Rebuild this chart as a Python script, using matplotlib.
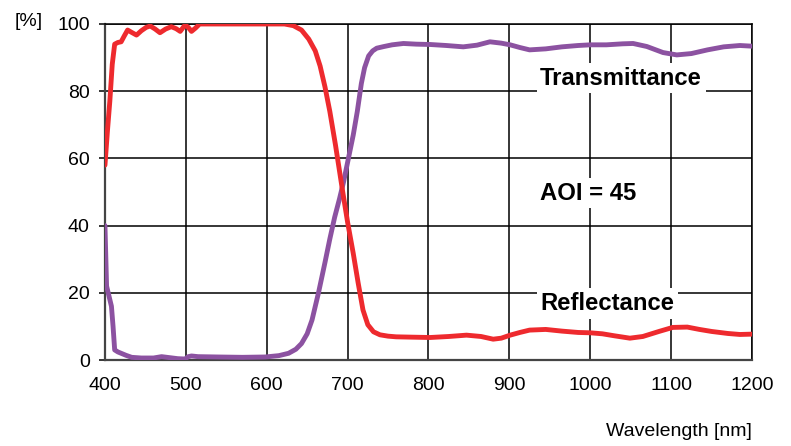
import matplotlib
matplotlib.use("Agg")
import matplotlib.pyplot as plt

plt.rcParams['font.family'] = ['Liberation Sans', 'DejaVu Sans']

# --- Data ---
refl_wl = [400, 403, 406, 409, 412, 416, 420, 424, 428, 433, 439, 445, 451, 456, 462,
           468, 475, 482, 488, 493, 499, 503, 507, 512, 517, 540, 600, 622, 633, 643,
           652, 660, 666, 672, 678, 685, 694, 700, 707, 713, 719, 725, 732, 740, 750,
           760, 780, 802, 825, 847, 865, 880, 890, 901, 913, 925, 945, 965, 985, 1000,
           1015, 1030, 1049, 1065, 1085, 1102, 1120, 1135, 1150, 1170, 1185, 1200]
refl_pct = [58, 68, 77, 88, 94, 94.5, 94.7, 96.5, 98.2, 97.5, 96.7, 98, 99, 99.4, 98.5,
            97.4, 98.5, 99.2, 98.6, 97.8, 99.7, 99, 97.8, 98.8, 100, 100, 100, 100, 99.5, 98.2,
            95.5, 92, 87.5, 81.3, 74, 64, 50, 41, 31.7, 23, 14.9, 10.5, 8.4, 7.5, 7.1,
            6.9, 6.8, 6.7, 7.0, 7.4, 7.0, 6.2, 6.5, 7.4, 8.2, 8.9, 9.1, 8.6, 8.2, 8.1,
            7.8, 7.2, 6.5, 7.0, 8.5, 9.7, 9.8, 9.1, 8.5, 7.9, 7.6, 7.7]

trans_wl = [400, 402, 405, 408, 410, 412, 416, 420, 426, 433, 445, 460, 470, 480, 490,
            499, 503, 507, 515, 540, 570, 598, 615, 627, 636, 643, 650, 656, 664, 672,
            678, 684, 690, 695, 701, 707, 712, 717, 721, 726, 731, 736, 745, 755, 769,
            785, 802, 822, 843, 860, 876, 890, 901, 913, 925, 945, 965, 985, 1000, 1020,
            1040, 1053, 1070, 1090, 1107, 1125, 1145, 1165, 1185, 1200]
trans_pct = [40, 22, 19, 16, 10, 3, 2.4, 2, 1.4, 0.8, 0.6, 0.6, 1.0, 0.7, 0.4,
             0.3, 1.0, 1.2, 1.0, 0.9, 0.8, 0.9, 1.3, 2.0, 3.2, 4.9, 7.8, 11.9, 20, 29,
             36, 42.5, 48, 53, 60, 67, 74, 82.3, 87, 90.5, 92, 92.8, 93.3, 93.8, 94.2,
             94, 93.9, 93.6, 93.2, 93.7, 94.7, 94.3, 93.8, 93, 92.3, 92.6, 93.2, 93.6, 93.8, 93.8,
             94.1, 94.2, 93.3, 91.5, 90.8, 91.2, 92.3, 93.2, 93.6, 93.4]

x_ticks = [400, 500, 600, 700, 800, 900, 1000, 1100, 1200]
y_ticks = [0, 20, 40, 60, 80, 100]

color_refl = '#EE2A2E'
color_trans = '#8C52A1'

# --- Plotting ---
fig = plt.figure(figsize=(7.91, 4.46), dpi=100)
ax = fig.add_axes([0.1327, 0.1928, 0.8180, 0.7534])

ax.plot(trans_wl, trans_pct, color=color_trans, linewidth=3.5,
        solid_joinstyle='round', solid_capstyle='round', zorder=3)
ax.plot(refl_wl, refl_pct, color=color_refl, linewidth=3.5,
        solid_joinstyle='round', solid_capstyle='round', zorder=4)

ax.set_xlim(400, 1200)
ax.set_ylim(0, 100)
ax.set_xticks(x_ticks)
ax.set_yticks(y_ticks)
ax.grid(True, color='black', linewidth=1.1)
ax.set_axisbelow(True)

for side in ['top', 'right']:
    ax.spines[side].set_color('black')
    ax.spines[side].set_linewidth(1.1)
for side in ['left', 'bottom']:
    ax.spines[side].set_color('#444444')
    ax.spines[side].set_linewidth(1.6)

ax.tick_params(axis='x', length=0, pad=12, labelsize=14)
ax.tick_params(axis='y', length=4, width=1.1, pad=7, labelsize=14)

# Curve labels with white boxes over the grid
box = dict(facecolor='white', edgecolor='none', pad=2.5)
ax.text(938, 83.9, 'Transmittance', fontsize=17.2, fontweight='bold',
        ha='left', va='center', bbox=box, zorder=5)
ax.text(938, 49.7, 'AOI = 45', fontsize=17.2, fontweight='bold',
        ha='left', va='center', bbox=box, zorder=5)
ax.text(938, 16.8, 'Reflectance', fontsize=17.2, fontweight='bold',
        ha='left', va='center', bbox=box, zorder=5)

fig.text(28.8 / 791, 1 - 21.7 / 446, '[%]', fontsize=14, ha='center', va='center')
fig.text(752 / 791, 1 - 432 / 446, 'Wavelength [nm]', fontsize=14, ha='right', va='center')

plt.savefig('out.png', dpi=100)
plt.close()
